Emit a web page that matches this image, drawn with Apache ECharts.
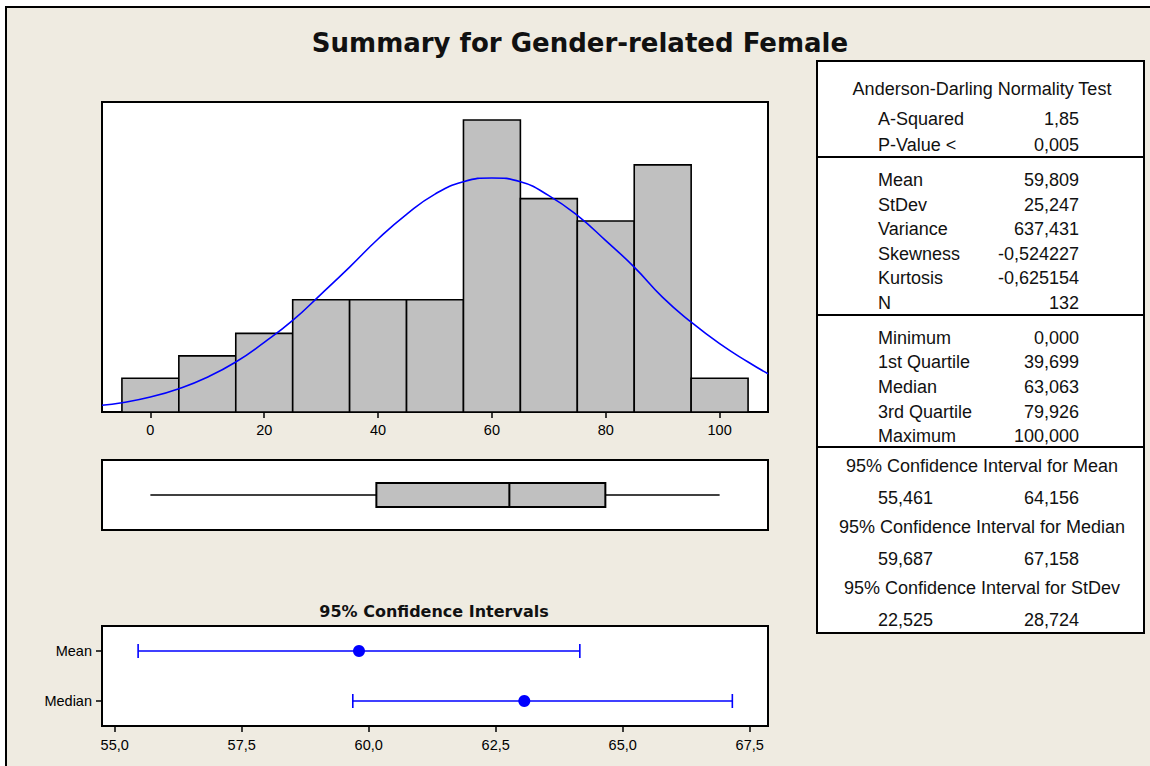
<!DOCTYPE html>
<html>
<head>
<meta charset="utf-8">
<title>Summary for Gender-related Female</title>
<script src="https://cdn.jsdelivr.net/npm/echarts@6/dist/echarts.min.js"></script>
<style>
  body { margin: 0; background: #fff; }
  #main { width: 1150px; height: 766px; }
</style>
</head>
<body>
<div id="main"></div>
<script>
// histogram: bin centres (width 10) and counts
const binCenters = [0, 10, 20, 30, 40, 50, 60, 70, 80, 90, 100];
const binCounts = [3, 5, 7, 10, 10, 10, 26, 19, 17, 22, 3];
const binWidth = 10;
const histTicks = [0, 20, 40, 60, 80, 100];

// fitted normal curve
const curveX = [-8.5, -5, 0, 5, 10, 15, 20, 25, 30, 35, 40, 45, 50, 55, 60, 65, 70, 75, 80, 85, 90, 95, 100, 105, 108.5];
const curveY = [0.6, 0.83, 1.33, 2.08, 3.1, 4.45, 6.2, 8.15, 10.5, 12.9, 15.4, 17.6, 19.4, 20.5, 20.84, 20.5, 19.26, 17.5, 15.26, 12.9, 10.2, 8.0, 6.08, 4.45, 3.4];

// box plot: min, Q1, median, Q3, max
const boxStats = [0, 39.699, 63.063, 79.926, 100];

// 95% confidence intervals
const ciNames = ['Mean', 'Median'];
const ciLow = [55.461, 59.687];
const ciHigh = [64.156, 67.158];
const ciPoint = [59.809, 63.063];
const ciTicks = [55, 57.5, 60, 62.5, 65, 67.5];

// summary table
const adTitle = 'Anderson-Darling Normality Test';
const adLabels = ['A-Squared', 'P-Value <'];
const adValues = ['1,85', '0,005'];
const momentLabels = ['Mean', 'StDev', 'Variance', 'Skewness', 'Kurtosis', 'N'];
const momentValues = ['59,809', '25,247', '637,431', '-0,524227', '-0,625154', '132'];
const quantLabels = ['Minimum', '1st Quartile', 'Median', '3rd Quartile', 'Maximum'];
const quantValues = ['0,000', '39,699', '63,063', '79,926', '100,000'];
const ciTitles = ['95% Confidence Interval for Mean', '95% Confidence Interval for Median', '95% Confidence Interval for StDev'];
const ciTableLow = ['55,461', '59,687', '22,525'];
const ciTableHigh = ['64,156', '67,158', '28,724'];

var chartDom = document.getElementById('main');
var myChart = echarts.init(chartDom, null, { renderer: 'svg' });

const tableFont = '18px "Liberation Sans", Arial, sans-serif';
const ink = '#111';

function txt(text, x, y, align, font) {
    return {
        type: 'text', x: x, y: y, z: 10,
        style: {
            text: text, font: font || tableFont, fill: ink,
            align: align, verticalAlign: 'middle',
            textAlign: align, textVerticalAlign: 'middle'
        }
    };
}
function hline(x1, x2, y) {
    return { type: 'line', z: 10, shape: { x1: x1, y1: y, x2: x2, y2: y }, style: { stroke: '#000', lineWidth: 2 } };
}

// table layout
const tL = 817, tR = 1144, tTop = 61, tBottom = 633;
const labX = 878, valX = 1079, midX = 982;
let graphics = [
    { type: 'rect', z: -10, shape: { x: 6, y: 7, width: 1200, height: 800 }, style: { fill: '#EFEBE1', stroke: '#000', lineWidth: 2 } },
    txt('Summary for Gender-related Female', 580, 43, 'center', 'bold 26px "DejaVu Sans", sans-serif'),
    txt('95% Confidence Intervals', 434, 611, 'center', 'bold 16px "DejaVu Sans", sans-serif'),
    { type: 'rect', z: 9, shape: { x: tL, y: tTop, width: tR - tL, height: tBottom - tTop }, style: { fill: '#fff', stroke: '#000', lineWidth: 2 } },
    hline(tL, tR, 157), hline(tL, tR, 315), hline(tL, tR, 447),
    txt(adTitle, midX, 88.5, 'center')
];
adLabels.forEach((l, i) => {
    graphics.push(txt(l, labX, 118.5 + i * 26.5, 'left'));
    graphics.push(txt(adValues[i], valX, 118.5 + i * 26.5, 'right'));
});
momentLabels.forEach((l, i) => {
    graphics.push(txt(l, labX, 180 + i * 24.5, 'left'));
    graphics.push(txt(momentValues[i], valX, 180 + i * 24.5, 'right'));
});
quantLabels.forEach((l, i) => {
    graphics.push(txt(l, labX, 337.5 + i * 24.7, 'left'));
    graphics.push(txt(quantValues[i], valX, 337.5 + i * 24.7, 'right'));
});
ciTitles.forEach((t, i) => {
    let y = 466 + i * 61;
    graphics.push(txt(t, midX, y, 'center'));
    graphics.push(txt(ciTableLow[i], labX, y + 31.5, 'left'));
    graphics.push(txt(ciTableHigh[i], valX, y + 31.5, 'right'));
});

const gridStyle = { show: true, backgroundColor: '#fff', borderColor: '#000', borderWidth: 2, containLabel: false };
const labelStyle = { color: '#000', fontSize: 14.5, fontFamily: '"Liberation Sans", Arial, sans-serif' };
const tickStyle = { lineStyle: { color: '#000', width: 1.5 } };
const blue = '#0000FF';

var option = {
    animation: false,
    backgroundColor: '#fff',
    graphic: { elements: graphics },
    grid: [
        Object.assign({ left: 102, top: 102, width: 666, height: 310 }, gridStyle),
        Object.assign({ left: 102, top: 460, width: 666, height: 70 }, gridStyle),
        Object.assign({ left: 102, top: 626, width: 666, height: 100 }, gridStyle)
    ],
    xAxis: [
        {
            gridIndex: 0, type: 'value', min: -8.5, max: 108.5,
            axisLine: { show: false }, splitLine: { show: false },
            axisTick: Object.assign({ show: true, length: 6, customValues: histTicks }, tickStyle),
            axisLabel: Object.assign({ margin: 10, customValues: histTicks }, labelStyle)
        },
        { gridIndex: 1, type: 'value', min: -8.5, max: 108.5, show: false },
        {
            gridIndex: 2, type: 'value', min: 54.75, max: 67.86,
            axisLine: { show: false }, splitLine: { show: false },
            axisTick: Object.assign({ show: true, length: 6, customValues: ciTicks }, tickStyle),
            axisLabel: Object.assign({
                margin: 11, customValues: ciTicks,
                formatter: v => v.toFixed(1).replace('.', ',')
            }, labelStyle)
        }
    ],
    yAxis: [
        { gridIndex: 0, type: 'value', min: 0, max: 27.6, show: false },
        { gridIndex: 1, type: 'value', min: 0, max: 1, show: false },
        {
            gridIndex: 2, type: 'category', data: ciNames, inverse: true,
            axisLine: { show: true, lineStyle: { color: '#000', width: 2 } },
            axisTick: Object.assign({ show: true, length: 6, alignWithLabel: true }, tickStyle),
            axisLabel: Object.assign({ margin: 10 }, labelStyle),
            splitLine: { show: false }
        }
    ],
    series: [
        {
            name: 'Histogram', type: 'custom', xAxisIndex: 0, yAxisIndex: 0,
            data: binCenters.map((c, i) => [c, binCounts[i]]),
            encode: { x: 0, y: 1 },
            renderItem: function (params, api) {
                let c = api.value(0), n = api.value(1);
                let p0 = api.coord([c - binWidth / 2, n]);
                let p1 = api.coord([c + binWidth / 2, 0]);
                return {
                    type: 'rect',
                    shape: { x: p0[0], y: p0[1], width: p1[0] - p0[0], height: p1[1] - p0[1] },
                    style: { fill: '#C0C0C0', stroke: '#000', lineWidth: 1.6 }
                };
            }
        },
        {
            name: 'Normal', type: 'line', xAxisIndex: 0, yAxisIndex: 0, z: 5,
            data: curveX.map((x, i) => [x, curveY[i]]),
            smooth: true, showSymbol: false, silent: true,
            lineStyle: { color: blue, width: 1.6 }
        },
        {
            name: 'Boxplot', type: 'custom', xAxisIndex: 1, yAxisIndex: 1,
            data: [boxStats],
            encode: { x: [0, 1, 2, 3, 4] },
            renderItem: function (params, api) {
                let xs = [0, 1, 2, 3, 4].map(k => api.coord([api.value(k), 0.5])[0]);
                let yc = api.coord([0, 0.5])[1];
                let yt = api.coord([0, 0.67])[1];
                let yb = api.coord([0, 0.33])[1];
                let ln = { stroke: '#000', lineWidth: 1.4 };
                return {
                    type: 'group',
                    children: [
                        { type: 'line', shape: { x1: xs[0], y1: yc, x2: xs[1], y2: yc }, style: ln },
                        { type: 'line', shape: { x1: xs[3], y1: yc, x2: xs[4], y2: yc }, style: ln },
                        { type: 'rect', shape: { x: xs[1], y: yt, width: xs[3] - xs[1], height: yb - yt }, style: { fill: '#C0C0C0', stroke: '#000', lineWidth: 2 } },
                        { type: 'line', shape: { x1: xs[2], y1: yt, x2: xs[2], y2: yb }, style: { stroke: '#000', lineWidth: 2 } }
                    ]
                };
            }
        },
        {
            name: 'CI', type: 'custom', xAxisIndex: 2, yAxisIndex: 2,
            data: ciNames.map((n, i) => [ciLow[i], ciHigh[i], i]),
            encode: { x: [0, 1], y: 2 },
            renderItem: function (params, api) {
                let lo = api.coord([api.value(0), api.value(2)]);
                let hi = api.coord([api.value(1), api.value(2)]);
                let st = { stroke: blue, lineWidth: 1.6 };
                return {
                    type: 'group',
                    children: [
                        { type: 'line', shape: { x1: lo[0], y1: lo[1], x2: hi[0], y2: hi[1] }, style: st },
                        { type: 'line', shape: { x1: lo[0], y1: lo[1] - 7, x2: lo[0], y2: lo[1] + 7 }, style: st },
                        { type: 'line', shape: { x1: hi[0], y1: hi[1] - 7, x2: hi[0], y2: hi[1] + 7 }, style: st }
                    ]
                };
            }
        },
        {
            name: 'Estimate', type: 'scatter', xAxisIndex: 2, yAxisIndex: 2, z: 5,
            data: ciPoint.map((v, i) => [v, i]),
            symbolSize: 12,
            itemStyle: { color: blue, opacity: 1 }
        }
    ]
};

option && myChart.setOption(option);
</script>
</body>
</html>
